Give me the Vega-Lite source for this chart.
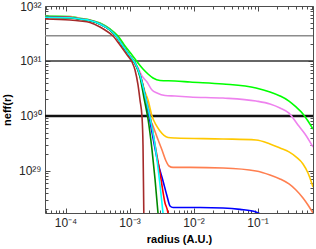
{
  "$schema": "https://vega.github.io/schema/vega-lite/v6.json",
  "width": 268,
  "height": 207,
  "autosize": "none",
  "padding": {"left": 45, "top": 6, "right": 3, "bottom": 36},
  "background": "white",
  "resolve": {"axis": {"x": "independent", "y": "independent"}},
  "config": {
    "font": "Liberation Sans",
    "view": {"stroke": "#4d4d4d", "strokeWidth": 1},
    "axis": {
      "grid": false,
      "domain": false,
      "labelFont": "Liberation Sans",
      "labelFontSize": 12,
      "labelColor": "#262626",
      "labelOverlap": false,
      "labelFlush": false,
      "tickColor": "#4d4d4d",
      "titleFont": "Liberation Sans",
      "titleFontSize": 11,
      "titleFontWeight": "bold",
      "titleColor": "#000000"
    }
  },
  "layer": [
    {
      "data": {"values": [{"n": 2.88e31}]},
      "mark": {"type": "rule", "color": "#8c8c8c", "strokeWidth": 1.5},
      "encoding": {
        "x": {"datum": 4.78e-5, "type": "quantitative", "scale": {"type": "log", "domain": [4.78e-5, 0.7366], "nice": false},
          "axis": {"orient": "top", "title": null, "labels": false,
            "values": [5e-5,6e-5,7e-5,8e-5,9e-5,1e-4,2e-4,3e-4,4e-4,5e-4,6e-4,7e-4,8e-4,9e-4,1e-3,2e-3,3e-3,4e-3,5e-3,6e-3,7e-3,8e-3,9e-3,1e-2,2e-2,3e-2,4e-2,5e-2,6e-2,7e-2,8e-2,9e-2,0.1,0.2,0.3,0.4,0.5,0.6,0.7],
            "tickSize": {"condition": {"test": "abs(log(datum.value)/LN10 - round(log(datum.value)/LN10)) < 1e-6", "value": -5}, "value": -3}}},
        "x2": {"datum": 0.7366},
        "y": {"field": "n", "type": "quantitative", "scale": {"type": "log", "domain": [1.72e28, 1e32], "nice": false},
          "axis": {"orient": "right", "title": null, "labels": false,
            "values": [2e28,3e28,4e28,5e28,6e28,7e28,8e28,9e28,1e29,2e29,3e29,4e29,5e29,6e29,7e29,8e29,9e29,1e30,2e30,3e30,4e30,5e30,6e30,7e30,8e30,9e30,1e31,2e31,3e31,4e31,5e31,6e31,7e31,8e31,9e31,1e32],
            "tickSize": {"condition": {"test": "abs(log(datum.value)/LN10 - round(log(datum.value)/LN10)) < 1e-6", "value": -5}, "value": -3}}}
      }
    },
    {
      "data": {"values": [{"n": 1e31}]},
      "mark": {"type": "rule", "color": "#333333", "strokeWidth": 1.6},
      "encoding": {
        "y": {"field": "n", "type": "quantitative", "scale": {"type": "log", "domain": [1.72e28, 1e32], "nice": false}, "axis": null}
      }
    },
    {
      "data": {"values": [{"n": 1e30}]},
      "mark": {"type": "rule", "color": "#111111", "strokeWidth": 2.6},
      "encoding": {
        "y": {"field": "n", "type": "quantitative", "scale": {"type": "log", "domain": [1.72e28, 1e32], "nice": false}, "axis": null}
      }
    },
    {
      "data": {"values": [
        {"s":"green","r":4.78e-5,"n":6.58e31},{"s":"green","r":1.176e-4,"n":6.44e31},{"s":"green","r":1.685e-4,"n":5.97e31},{"s":"green","r":2.414e-4,"n":5.56e31},{"s":"green","r":3.46e-4,"n":4.91e31},{"s":"green","r":4.958e-4,"n":3.82e31},{"s":"green","r":6.611e-4,"n":2.85e31},{"s":"green","r":8.506e-4,"n":1.87e31},{"s":"green","r":1.094e-3,"n":1.29e31},{"s":"green","r":1.358e-3,"n":9.2e30},{"s":"green","r":1.625e-3,"n":7.15e30},{"s":"green","r":1.946e-3,"n":5.8e30},{"s":"green","r":2.329e-3,"n":4.91e30},{"s":"green","r":2.996e-3,"n":4.42e30},{"s":"green","r":5.139e-3,"n":4.33e30},{"s":"green","r":8.816e-3,"n":4.15e30},{"s":"green","r":2.891e-2,"n":3.82e30},{"s":"green","r":9.475e-2,"n":3.23e30},{"s":"green","r":0.1568,"n":2.73e30},{"s":"green","r":0.2247,"n":2.31e30},{"s":"green","r":0.3106,"n":1.87e30},{"s":"green","r":0.3995,"n":1.46e30},{"s":"green","r":0.5139,"n":1.09e30},{"s":"green","r":0.6152,"n":8.11e29},{"s":"green","r":0.7366,"n":5.8e29},

        {"s":"violet","r":4.78e-5,"n":6.44e31},{"s":"violet","r":1.176e-4,"n":6.3e31},{"s":"violet","r":1.685e-4,"n":5.9e31},{"s":"violet","r":2.414e-4,"n":5.5e31},{"s":"violet","r":3.46e-4,"n":4.75e31},{"s":"violet","r":4.958e-4,"n":3.68e31},{"s":"violet","r":6.152e-4,"n":2.87e31},{"s":"violet","r":7.913e-4,"n":1.88e31},{"s":"violet","r":1.018e-3,"n":1.24e31},{"s":"violet","r":1.219e-3,"n":9.2e30},{"s":"violet","r":1.358e-3,"n":7.46e30},{"s":"violet","r":1.568e-3,"n":5.34e30},{"s":"violet","r":1.877e-3,"n":4.15e30},{"s":"violet","r":2.247e-3,"n":2.97e30},{"s":"violet","r":2.69e-3,"n":2.62e30},{"s":"violet","r":3.587e-3,"n":2.36e30},{"s":"violet","r":5.139e-3,"n":2.31e30},{"s":"violet","r":8.816e-3,"n":2.22e30},{"s":"violet","r":2.891e-2,"n":2.12e30},{"s":"violet","r":9.475e-2,"n":1.87e30},{"s":"violet","r":0.1568,"n":1.65e30},{"s":"violet","r":0.2247,"n":1.4e30},{"s":"violet","r":0.3106,"n":1.13e30},{"s":"violet","r":0.4294,"n":6.86e29},{"s":"violet","r":0.5524,"n":4.71e29},{"s":"violet","r":0.7366,"n":2.73e29},

        {"s":"gold","r":4.78e-5,"n":6.39e31},{"s":"gold","r":1.176e-4,"n":6.25e31},{"s":"gold","r":1.685e-4,"n":5.85e31},{"s":"gold","r":2.414e-4,"n":5.48e31},{"s":"gold","r":3.46e-4,"n":4.73e31},{"s":"gold","r":4.958e-4,"n":3.67e31},{"s":"gold","r":6.152e-4,"n":2.86e31},{"s":"gold","r":7.913e-4,"n":1.87e31},{"s":"gold","r":1.018e-3,"n":1.23e31},{"s":"gold","r":1.219e-3,"n":9.2e30},{"s":"gold","r":1.459e-3,"n":5.8e30},{"s":"gold","r":1.747e-3,"n":2.73e30},{"s":"gold","r":1.946e-3,"n":1.95e30},{"s":"gold","r":2.247e-3,"n":1.0e30},{"s":"gold","r":2.595e-3,"n":6.86e29},{"s":"gold","r":2.996e-3,"n":5.34e29},{"s":"gold","r":3.46e-3,"n":4.42e29},{"s":"gold","r":3.995e-3,"n":4.06e29},{"s":"gold","r":5.139e-3,"n":3.98e29},{"s":"gold","r":2.891e-2,"n":3.82e29},{"s":"gold","r":9.475e-2,"n":3.66e29},{"s":"gold","r":0.1568,"n":3.1e29},{"s":"gold","r":0.2247,"n":2.62e29},{"s":"gold","r":0.3106,"n":2.22e29},{"s":"gold","r":0.3995,"n":1.8e29},{"s":"gold","r":0.5139,"n":1.34e29},{"s":"gold","r":0.6152,"n":9.2e28},{"s":"gold","r":0.7366,"n":5.12e28},

        {"s":"coral","r":4.78e-5,"n":6.36e31},{"s":"coral","r":1.176e-4,"n":6.2e31},{"s":"coral","r":1.685e-4,"n":5.83e31},{"s":"coral","r":2.414e-4,"n":5.46e31},{"s":"coral","r":3.46e-4,"n":4.72e31},{"s":"coral","r":4.958e-4,"n":3.66e31},{"s":"coral","r":6.152e-4,"n":2.85e31},{"s":"coral","r":7.913e-4,"n":1.87e31},{"s":"coral","r":1.018e-3,"n":1.23e31},{"s":"coral","r":1.219e-3,"n":9.2e30},{"s":"coral","r":1.459e-3,"n":5.56e30},{"s":"coral","r":1.747e-3,"n":2.41e30},{"s":"coral","r":2.017e-3,"n":1.0e30},{"s":"coral","r":2.329e-3,"n":6.58e29},{"s":"coral","r":2.69e-3,"n":4.15e29},{"s":"coral","r":3.22e-3,"n":2.41e29},{"s":"coral","r":3.718e-3,"n":1.52e29},{"s":"coral","r":4.141e-3,"n":1.23e29},{"s":"coral","r":4.783e-3,"n":1.16e29},{"s":"coral","r":8.816e-3,"n":1.16e29},{"s":"coral","r":2.891e-2,"n":1.13e29},{"s":"coral","r":9.475e-2,"n":1.0e29},{"s":"coral","r":0.1568,"n":8.46e28},{"s":"coral","r":0.2247,"n":7.15e28},{"s":"coral","r":0.3106,"n":5.8e28},{"s":"coral","r":0.3995,"n":4.51e28},{"s":"coral","r":0.5139,"n":3.23e28},{"s":"coral","r":0.6152,"n":2.41e28},{"s":"coral","r":0.7366,"n":1.72e28},

        {"s":"blue","r":4.78e-5,"n":6.31e31},{"s":"blue","r":1.176e-4,"n":6.18e31},{"s":"blue","r":1.685e-4,"n":5.8e31},{"s":"blue","r":2.414e-4,"n":5.45e31},{"s":"blue","r":3.46e-4,"n":4.71e31},{"s":"blue","r":4.958e-4,"n":3.66e31},{"s":"blue","r":6.152e-4,"n":2.85e31},{"s":"blue","r":7.913e-4,"n":1.87e31},{"s":"blue","r":1.018e-3,"n":1.23e31},{"s":"blue","r":1.219e-3,"n":9.2e30},{"s":"blue","r":1.459e-3,"n":5.56e30},{"s":"blue","r":1.747e-3,"n":2.41e30},{"s":"blue","r":2.017e-3,"n":1.0e30},{"s":"blue","r":2.329e-3,"n":3.98e29},{"s":"blue","r":2.788e-3,"n":1.4e29},{"s":"blue","r":3.338e-3,"n":6.58e28},{"s":"blue","r":3.854e-3,"n":3.51e28},{"s":"blue","r":4.294e-3,"n":2.31e28},{"s":"blue","r":4.783e-3,"n":2.17e28},{"s":"blue","r":1.264e-2,"n":2.17e28},{"s":"blue","r":2.891e-2,"n":2.12e28},{"s":"blue","r":5.329e-2,"n":2.0e28},{"s":"blue","r":9.475e-2,"n":1.8e28},{"s":"blue","r":0.1176,"n":1.58e28},

        {"s":"red","r":4.78e-5,"n":6.28e31},{"s":"red","r":1.176e-4,"n":6.16e31},{"s":"red","r":1.685e-4,"n":5.8e31},{"s":"red","r":2.414e-4,"n":5.45e31},{"s":"red","r":3.46e-4,"n":4.71e31},{"s":"red","r":4.958e-4,"n":3.66e31},{"s":"red","r":6.152e-4,"n":2.85e31},{"s":"red","r":7.913e-4,"n":1.87e31},{"s":"red","r":1.018e-3,"n":1.23e31},{"s":"red","r":1.219e-3,"n":9.2e30},{"s":"red","r":1.459e-3,"n":5.56e30},{"s":"red","r":1.747e-3,"n":2.41e30},{"s":"red","r":2.091e-3,"n":1.0e30},{"s":"red","r":2.503e-3,"n":2.97e29},{"s":"red","r":2.996e-3,"n":9.2e28},{"s":"red","r":3.587e-3,"n":2.62e28},{"s":"red","r":3.995e-3,"n":1.72e28},{"s":"red","r":4.141e-3,"n":1.0e28},

        {"s":"darkgreen","r":4.78e-5,"n":6.2e31},{"s":"darkgreen","r":1.176e-4,"n":6.08e31},{"s":"darkgreen","r":1.685e-4,"n":5.75e31},{"s":"darkgreen","r":2.414e-4,"n":5.4e31},{"s":"darkgreen","r":3.46e-4,"n":4.68e31},{"s":"darkgreen","r":4.958e-4,"n":3.64e31},{"s":"darkgreen","r":6.152e-4,"n":2.83e31},{"s":"darkgreen","r":7.913e-4,"n":1.85e31},{"s":"darkgreen","r":1.018e-3,"n":1.21e31},{"s":"darkgreen","r":1.219e-3,"n":9.0e30},{"s":"darkgreen","r":1.459e-3,"n":5.12e30},{"s":"darkgreen","r":1.685e-3,"n":2.12e30},{"s":"darkgreen","r":1.946e-3,"n":8.82e29},{"s":"darkgreen","r":2.247e-3,"n":2.41e29},{"s":"darkgreen","r":2.503e-3,"n":7.15e28},{"s":"darkgreen","r":2.788e-3,"n":1.72e28},{"s":"darkgreen","r":2.891e-3,"n":1.0e28},

        {"s":"cyan","r":4.78e-5,"n":6.26e31},{"s":"cyan","r":1.176e-4,"n":6.12e31},{"s":"cyan","r":1.685e-4,"n":5.8e31},{"s":"cyan","r":2.414e-4,"n":5.45e31},{"s":"cyan","r":3.46e-4,"n":4.71e31},{"s":"cyan","r":4.958e-4,"n":3.66e31},{"s":"cyan","r":6.152e-4,"n":2.85e31},{"s":"cyan","r":7.913e-4,"n":1.87e31},{"s":"cyan","r":1.018e-3,"n":1.23e31},{"s":"cyan","r":1.219e-3,"n":9.2e30},{"s":"cyan","r":1.459e-3,"n":5.56e30},{"s":"cyan","r":1.747e-3,"n":2.41e30},{"s":"cyan","r":2.091e-3,"n":9.59e29},{"s":"cyan","r":2.503e-3,"n":2.97e29},{"s":"cyan","r":2.996e-3,"n":5.56e28},{"s":"cyan","r":3.338e-3,"n":1.72e28},{"s":"cyan","r":3.523e-3,"n":1.0e28},

        {"s":"brown","r":4.78e-5,"n":5.8e31},{"s":"brown","r":1.176e-4,"n":5.56e31},{"s":"brown","r":1.685e-4,"n":5.34e31},{"s":"brown","r":2.414e-4,"n":5.01e31},{"s":"brown","r":3.46e-4,"n":4.15e31},{"s":"brown","r":4.141e-4,"n":3.66e31},{"s":"brown","r":5.524e-4,"n":2.85e31},{"s":"brown","r":7.105e-4,"n":1.95e31},{"s":"brown","r":9.14e-4,"n":1.29e31},{"s":"brown","r":1.094e-3,"n":9.59e30},{"s":"brown","r":1.219e-3,"n":6.86e30},{"s":"brown","r":1.358e-3,"n":3.66e30},{"s":"brown","r":1.459e-3,"n":1.95e30},{"s":"brown","r":1.568e-3,"n":9.59e29},{"s":"brown","r":1.625e-3,"n":2.97e29},{"s":"brown","r":1.673e-3,"n":1.72e28},{"s":"brown","r":1.685e-3,"n":1.0e28}
      ]},
      "mark": {"type": "line", "strokeWidth": 1.6, "clip": true, "interpolate": "monotone"},
      "encoding": {
        "x": {"field": "r", "type": "quantitative", "scale": {"type": "log", "domain": [4.78e-5, 0.7366], "nice": false},
          "axis": {"orient": "bottom", "title": "radius (A.U.)", "titlePadding": 3, "labelPadding": 9,
            "values": [5e-5,6e-5,7e-5,8e-5,9e-5,1e-4,2e-4,3e-4,4e-4,5e-4,6e-4,7e-4,8e-4,9e-4,1e-3,2e-3,3e-3,4e-3,5e-3,6e-3,7e-3,8e-3,9e-3,1e-2,2e-2,3e-2,4e-2,5e-2,6e-2,7e-2,8e-2,9e-2,0.1,0.2,0.3,0.4,0.5,0.6,0.7],
            "labelExpr": "abs(log(datum.value)/LN10 - round(log(datum.value)/LN10)) < 1e-6 ? '10' + (round(log(datum.value)/LN10) == -4 ? '⁻⁴' : round(log(datum.value)/LN10) == -3 ? '⁻³' : round(log(datum.value)/LN10) == -2 ? '⁻²' : '⁻¹') : ''",
            "tickSize": {"condition": {"test": "abs(log(datum.value)/LN10 - round(log(datum.value)/LN10)) < 1e-6", "value": -5}, "value": -3}}},
        "y": {"field": "n", "type": "quantitative", "scale": {"type": "log", "domain": [1.72e28, 1e32], "nice": false},
          "axis": {"orient": "left", "title": "neff(r)", "titlePadding": 6, "labelPadding": 9,
            "values": [2e28,3e28,4e28,5e28,6e28,7e28,8e28,9e28,1e29,2e29,3e29,4e29,5e29,6e29,7e29,8e29,9e29,1e30,2e30,3e30,4e30,5e30,6e30,7e30,8e30,9e30,1e31,2e31,3e31,4e31,5e31,6e31,7e31,8e31,9e31,1e32],
            "labelExpr": "abs(log(datum.value)/LN10 - round(log(datum.value)/LN10)) < 1e-6 ? '10' + (round(log(datum.value)/LN10) == 29 ? '²⁹' : round(log(datum.value)/LN10) == 30 ? '³⁰' : round(log(datum.value)/LN10) == 31 ? '³¹' : '³²') : ''",
            "tickSize": {"condition": {"test": "abs(log(datum.value)/LN10 - round(log(datum.value)/LN10)) < 1e-6", "value": -5}, "value": -3}}},
        "color": {"field": "s", "type": "nominal", "legend": null, "sort": null,
          "scale": {"domain": ["green","violet","gold","coral","blue","red","darkgreen","cyan","brown"],
                    "range": ["#00ff00","#ee82ee","#ffc800","#ff7f50","#0000ff","#ff0000","#008800","#00ffff","#a52a2a"]}}
      }
    }
  ]
}
